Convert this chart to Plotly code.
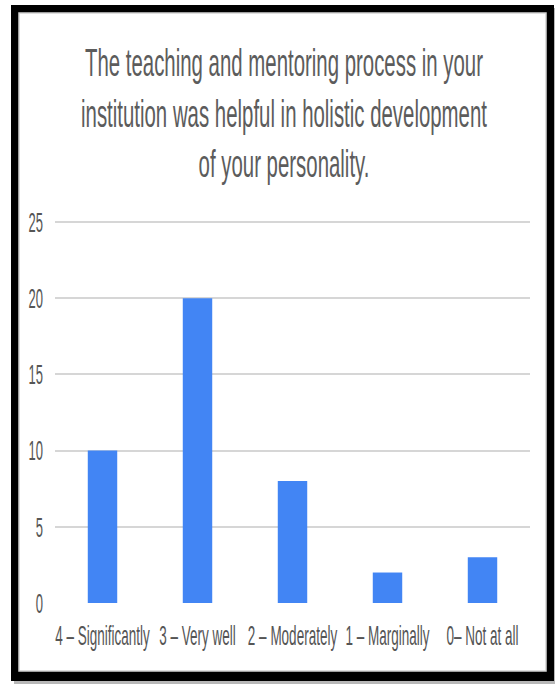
import plotly.graph_objects as go

# Survey responses
categories = ["4 – Significantly", "3 – Very well", "2 – Moderately", "1 – Marginally", "0– Not at all"]
counts = [10, 20, 8, 2, 3]
y_ticks = [0, 5, 10, 15, 20, 25]

title_text = ("The teaching and mentoring process in your<br>"
              "institution was helpful in holistic development<br>"
              "of your personality.")

W, H = 555, 685
L, R, T, B = 55, 25, 220, 82
PW, PH = W - L - R, H - T - B
Y_MAX = 25 * (PH / (H - B - 222))  # keep 25 a little below the plot top so its gridline shows


def fx(px):
    return (px - L) / PW


def fy(py):
    return (H - B - py) / PH


fig = go.Figure(
    go.Bar(
        x=categories,
        y=counts,
        marker=dict(color="#4285F4", line=dict(width=0)),
        hoverinfo="x+y",
    )
)

# Framed card: soft shadow, thick black border, white inner panel
shapes = [
    dict(type="rect", xref="paper", yref="paper", layer="below",
         x0=fx(14), x1=fx(557), y0=fy(8), y1=fy(684),
         fillcolor="#b8b8b8", line=dict(width=0)),
    dict(type="rect", xref="paper", yref="paper", layer="below",
         x0=fx(11), x1=fx(554), y0=fy(5), y1=fy(681),
         fillcolor="#000000", line=dict(width=0)),
    dict(type="rect", xref="paper", yref="paper", layer="below",
         x0=fx(19), x1=fx(546), y0=fy(13), y1=fy(671),
         fillcolor="#ffffff", line=dict(color="#d4d4d4", width=1.5)),
]

fig.update_layout(
    width=W, height=H,
    margin=dict(l=L, r=R, t=T, b=B, pad=0),
    paper_bgcolor="#ffffff",
    plot_bgcolor="rgba(0,0,0,0)",
    font=dict(family="Liberation Sans, Arial, sans-serif", color="#555555"),
    title=dict(
        text=title_text,
        xref="container", yref="container",
        x=284 / W, y=1 - 94 / H,
        xanchor="center", yanchor="middle",
        font=dict(size=20.4, color="#5c5c5c"),
    ),
    bargap=0.69,
    showlegend=False,
    shapes=shapes,
    xaxis=dict(
        showgrid=False, zeroline=False, showline=False,
        ticks="", tickfont=dict(size=13.5, color="#555555"),
        ticklabelstandoff=23,
        fixedrange=True,
    ),
    yaxis=dict(
        range=[0, Y_MAX],
        tickvals=y_ticks,
        showgrid=True, gridcolor="#d6d6d6", gridwidth=2,
        zeroline=False, showline=False,
        ticks="", tickfont=dict(size=13, color="#555555"),
        ticklabelstandoff=11,
        fixedrange=True,
    ),
)

# Tall, condensed lettering: stretch each label vertically about its own centre
post = """
var gd = document.getElementById('{plot_id}');
function stretch(sel, k) {
  gd.querySelectorAll(sel).forEach(function (t) {
    var b = t.getBBox();
    var cx = b.x + b.width / 2, cy = b.y + b.height / 2;
    var tr = t.getAttribute('transform') || '';
    t.setAttribute('transform', tr + ' translate(' + cx + ',' + cy + ') scale(1,' + k +
                   ') translate(' + (-cx) + ',' + (-cy) + ')');
  });
}
stretch('.gtitle', 1.9);
stretch('.xtick text', 2.05);
stretch('.ytick text', 2.15);
"""

fig.write_html("out.html", config={"displayModeBar": False}, post_script=post)
